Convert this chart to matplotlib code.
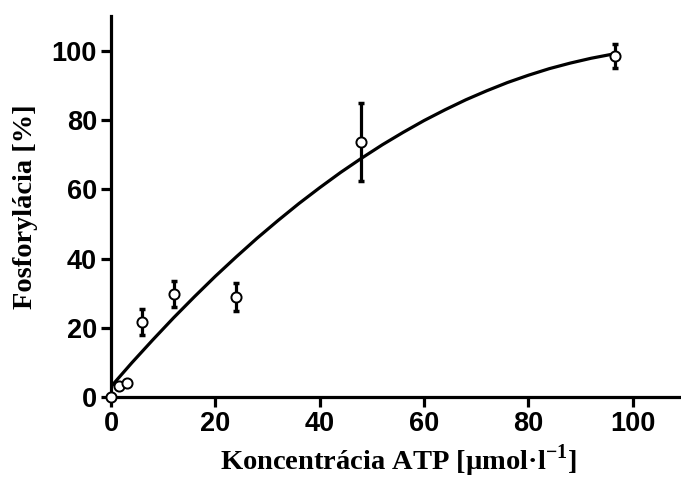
import matplotlib
matplotlib.use("Agg")
import matplotlib.pyplot as plt

# data points (ATP concentration, phosphorylation %, SD)
conc = [0, 1.5, 3, 6, 12, 24, 48, 96.5]
phos = [0, 3.2, 4.0, 21.7, 29.8, 29.0, 73.7, 98.5]
err = [0, 0, 0, 3.8, 3.8, 4.0, 11.3, 3.5]

# fitted curve
curve_x = [0, 4, 8, 12, 16, 20, 24, 28, 32, 36, 40, 44, 48, 52, 56, 60, 64, 68,
           72, 76, 80, 84, 88, 92, 96.5]
curve_y = [3.0, 9.9, 16.5, 22.9, 29.0, 34.9, 40.5, 45.9, 51.0, 55.9, 60.5, 64.9,
           69.0, 72.9, 76.5, 79.9, 83.0, 85.9, 88.5, 90.9, 93.0, 94.9, 96.5, 97.9, 99.2]

xticks = [0, 20, 40, 60, 80, 100]
yticks = [0, 20, 40, 60, 80, 100]

plt.rcParams['mathtext.fontset'] = 'custom'
plt.rcParams['mathtext.rm'] = 'Liberation Serif:bold'
plt.rcParams['mathtext.bf'] = 'Liberation Serif:bold'

fig = plt.figure(figsize=(6.81, 4.91), dpi=100)
ax = fig.add_axes([111/681, 94/491, 574/681, 380.6/491])

ax.plot(curve_x, curve_y, color='black', lw=2.3, zorder=2)
ax.errorbar(conc, phos, yerr=err, fmt='none', ecolor='black', elinewidth=2.3,
            capsize=2.5, capthick=2.5, zorder=3)
ax.plot(conc, phos, 'o', ms=7.3, mfc='white', mec='black', mew=1.4, zorder=4,
        clip_on=False)

ax.set_xlim(0, 110)
ax.set_ylim(0, 110)
ax.set_xticks(xticks)
ax.set_yticks(yticks)
ax.set_xticklabels([str(t) for t in xticks], fontfamily='Liberation Sans',
                   fontweight='bold', fontsize=19.5)
ax.set_yticklabels([str(t) for t in yticks], fontfamily='Liberation Sans',
                   fontweight='bold', fontsize=19.5)
for s in ['top', 'right']:
    ax.spines[s].set_visible(False)
for s in ['left', 'bottom']:
    ax.spines[s].set_linewidth(2.3)
ax.tick_params(direction='out', length=7, width=2.3, pad=3)

ax.set_xlabel('Koncentrácia ATP [µmol·l$^{-1}$]', fontfamily='Liberation Serif',
              fontweight='bold', fontsize=20.5, labelpad=4)
ax.set_ylabel('Fosforylácia [%]', fontfamily='Liberation Serif',
              fontweight='bold', fontsize=20.5, labelpad=10)

fig.savefig('out.png', dpi=100)
